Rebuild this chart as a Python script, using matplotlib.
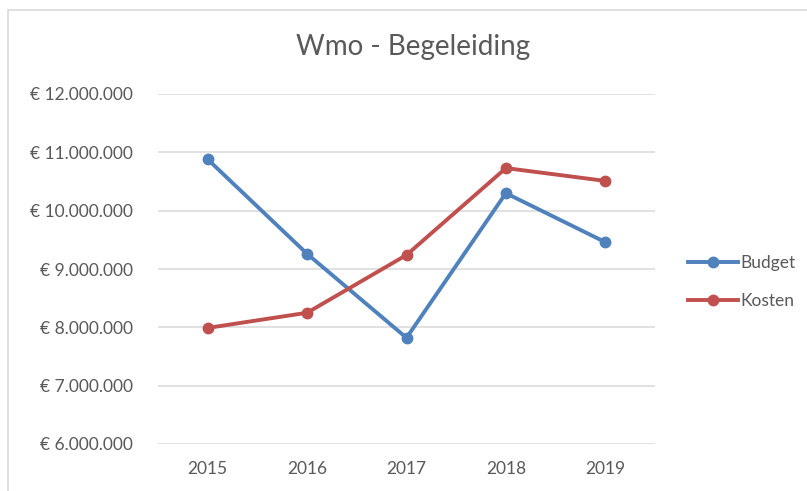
import matplotlib.pyplot as plt
import matplotlib.ticker as mtick
from matplotlib.lines import Line2D
from matplotlib.patches import Rectangle

jaren = ['2015', '2016', '2017', '2018', '2019']
budget = [10.88e6, 9.26e6, 7.82e6, 10.30e6, 9.46e6]
kosten = [7.99e6, 8.25e6, 9.24e6, 10.73e6, 10.51e6]

blauw = '#4F81BD'
rood = '#C0504D'
grijs = '#595959'

plt.rcParams['font.family'] = ['Lato', 'DejaVu Sans']

W, H = 807, 491
fig = plt.figure(figsize=(W / 100, H / 100), dpi=100)

# kader van het grafiekgebied
fig.patches.append(Rectangle((8 / W, -0.1), 1.2, 1.1 - 10 / H, transform=fig.transFigure,
                             fill=False, edgecolor='#D9D9D9', linewidth=1.2))

ax = fig.add_axes([158 / W, (H - 444) / H, (655 - 158) / W, (444 - 94) / H])

x = list(range(len(jaren)))
ax.plot(x, budget, color=blauw, lw=2.8, marker='o', ms=7.5, label='Budget', solid_capstyle='round')
ax.plot(x, kosten, color=rood, lw=2.8, marker='o', ms=7.5, label='Kosten', solid_capstyle='round')

ax.set_xlim(-0.5, len(jaren) - 0.5)
ax.set_ylim(6e6, 12e6)
ax.set_xticks(x)
ax.set_xticklabels(jaren)
ax.yaxis.set_major_locator(mtick.MultipleLocator(1e6))
ax.yaxis.set_major_formatter(mtick.FuncFormatter(lambda v, p: '€ ' + f'{int(v):,}'.replace(',', '.')))

ax.grid(axis='y', color='#D9D9D9', lw=1.1)
ax.set_axisbelow(True)
for s in ax.spines.values():
    s.set_visible(False)
ax.tick_params(length=0, colors=grijs, labelsize=12.5)
ax.tick_params(axis='y', pad=18)
ax.tick_params(axis='x', pad=12)

fig.text(413 / W, 1 - 47 / H, 'Wmo - Begeleiding', ha='center', va='center', fontsize=20, color=grijs)

handles = [Line2D([], [], color=blauw, lw=2.8, marker='o', ms=7.5),
           Line2D([], [], color=rood, lw=2.8, marker='o', ms=7.5)]
fig.legend(handles, ['Budget', 'Kosten'], loc='center left', bbox_to_anchor=(672 / W, 1 - 282 / H),
           frameon=False, fontsize=12.5, labelcolor=grijs, handlelength=2.9, handletextpad=0.15,
           labelspacing=1.25)

fig.savefig('out.png', dpi=100)
